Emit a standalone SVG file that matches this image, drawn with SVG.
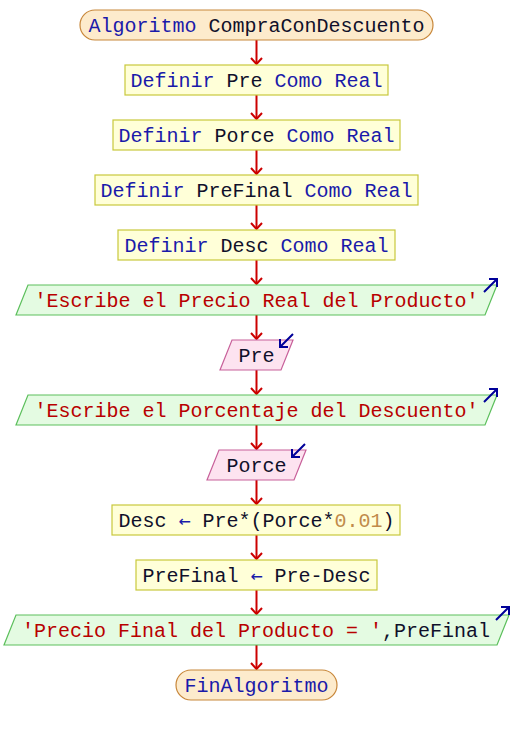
<svg xmlns="http://www.w3.org/2000/svg" width="512" height="735" viewBox="0 0 512 735">
<style>
text{font-family:"Liberation Mono","Courier New",monospace;font-size:20px;text-anchor:middle}
.term{fill:#fdebcc;stroke:#c8873a;stroke-width:1.2}
.proc{fill:#ffffd8;stroke:#c8c83c;stroke-width:1.2}
.out{fill:#e4fbe2;stroke:#5cbf5c;stroke-width:1.2}
.in{fill:#fde3f0;stroke:#c8609a;stroke-width:1.2}
.kw{fill:#1a1aaa}
.id{fill:#10102a}
.st{fill:#b80000}
.nm{fill:#c08a4a}
.op{fill:#1a1aaa;font-family:"DejaVu Sans Mono","Liberation Mono",monospace}
.conn line,.conn path{stroke:#cc0000;stroke-width:2;fill:none}
.io{stroke:#000099;stroke-width:2;fill:none}
</style>
<g class="conn">
<line x1="256.5" y1="40" x2="256.5" y2="64"/><path d="M251,58 L256.5,64 L262,58"/>
<line x1="256.5" y1="95" x2="256.5" y2="119"/><path d="M251,113 L256.5,119 L262,113"/>
<line x1="256.5" y1="150" x2="256.5" y2="174"/><path d="M251,168 L256.5,174 L262,168"/>
<line x1="256.5" y1="205" x2="256.5" y2="229"/><path d="M251,223 L256.5,229 L262,223"/>
<line x1="256.5" y1="260" x2="256.5" y2="284"/><path d="M251,278 L256.5,284 L262,278"/>
<line x1="256.5" y1="315" x2="256.5" y2="339"/><path d="M251,333 L256.5,339 L262,333"/>
<line x1="256.5" y1="370" x2="256.5" y2="394"/><path d="M251,388 L256.5,394 L262,388"/>
<line x1="256.5" y1="425" x2="256.5" y2="449"/><path d="M251,443 L256.5,449 L262,443"/>
<line x1="256.5" y1="480" x2="256.5" y2="504"/><path d="M251,498 L256.5,504 L262,498"/>
<line x1="256.5" y1="535" x2="256.5" y2="559"/><path d="M251,553 L256.5,559 L262,553"/>
<line x1="256.5" y1="590" x2="256.5" y2="614"/><path d="M251,608 L256.5,614 L262,608"/>
<line x1="256.5" y1="645" x2="256.5" y2="669"/><path d="M251,663 L256.5,669 L262,663"/>
</g>
<g id="inicio">
<rect class="term" x="80" y="10" width="353" height="30" rx="15"/>
<text x="256.5" y="32"><tspan class="kw">Algoritmo</tspan> <tspan class="id">CompraConDescuento</tspan></text>
</g>
<g id="def-pre">
<rect class="proc" x="125" y="65" width="263" height="30"/>
<text x="256.5" y="87"><tspan class="kw">Definir</tspan> <tspan class="id">Pre</tspan> <tspan class="kw">Como Real</tspan></text>
</g>
<g id="def-porce">
<rect class="proc" x="113" y="120" width="287" height="30"/>
<text x="256.5" y="142"><tspan class="kw">Definir</tspan> <tspan class="id">Porce</tspan> <tspan class="kw">Como Real</tspan></text>
</g>
<g id="def-prefinal">
<rect class="proc" x="95" y="175" width="323" height="30"/>
<text x="256.5" y="197"><tspan class="kw">Definir</tspan> <tspan class="id">PreFinal</tspan> <tspan class="kw">Como Real</tspan></text>
</g>
<g id="def-desc">
<rect class="proc" x="118" y="230" width="277" height="30"/>
<text x="256.5" y="252"><tspan class="kw">Definir</tspan> <tspan class="id">Desc</tspan> <tspan class="kw">Como Real</tspan></text>
</g>
<g id="escribe1">
<polygon class="out" points="28,285 497,285 485,315 16,315"/>
<path class="io" d="M484,292 L497,279 M489,279 L497,279 L497,287"/>
<text x="256.5" y="307"><tspan class="st">'Escribe el Precio Real del Producto'</tspan></text>
</g>
<g id="leer-pre">
<polygon class="in" points="232,340 293,340 281,370 220,370"/>
<path class="io" d="M293,334 L280,347 M280,339 L280,347 L288,347"/>
<text x="256.5" y="362"><tspan class="id">Pre</tspan></text>
</g>
<g id="escribe2">
<polygon class="out" points="28,395 497,395 485,425 16,425"/>
<path class="io" d="M484,402 L497,389 M489,389 L497,389 L497,397"/>
<text x="256.5" y="417"><tspan class="st">'Escribe el Porcentaje del Descuento'</tspan></text>
</g>
<g id="leer-porce">
<polygon class="in" points="219,450 306,450 294,480 207,480"/>
<path class="io" d="M305,444 L292,457 M292,449 L292,457 L300,457"/>
<text x="256.5" y="472"><tspan class="id">Porce</tspan></text>
</g>
<g id="asig-desc">
<rect class="proc" x="112" y="505" width="288" height="30"/>
<text x="256.5" y="527"><tspan class="id">Desc</tspan> <tspan class="op">←</tspan> <tspan class="id">Pre*(Porce*</tspan><tspan class="nm">0.01</tspan><tspan class="id">)</tspan></text>
</g>
<g id="asig-prefinal">
<rect class="proc" x="136" y="560" width="241" height="30"/>
<text x="256.5" y="582"><tspan class="id">PreFinal</tspan> <tspan class="op">←</tspan> <tspan class="id">Pre-Desc</tspan></text>
</g>
<g id="escribe3">
<polygon class="out" points="16,615 509,615 497,645 4,645"/>
<path class="io" d="M496,620 L509,607 M501,607 L509,607 L509,615"/>
<text x="256" y="637"><tspan class="st">'Precio Final del Producto = '</tspan><tspan class="id">,PreFinal</tspan></text>
</g>
<g id="fin">
<rect class="term" x="176" y="670" width="161" height="30" rx="15"/>
<text x="256.5" y="692"><tspan class="kw">FinAlgoritmo</tspan></text>
</g>
</svg>
